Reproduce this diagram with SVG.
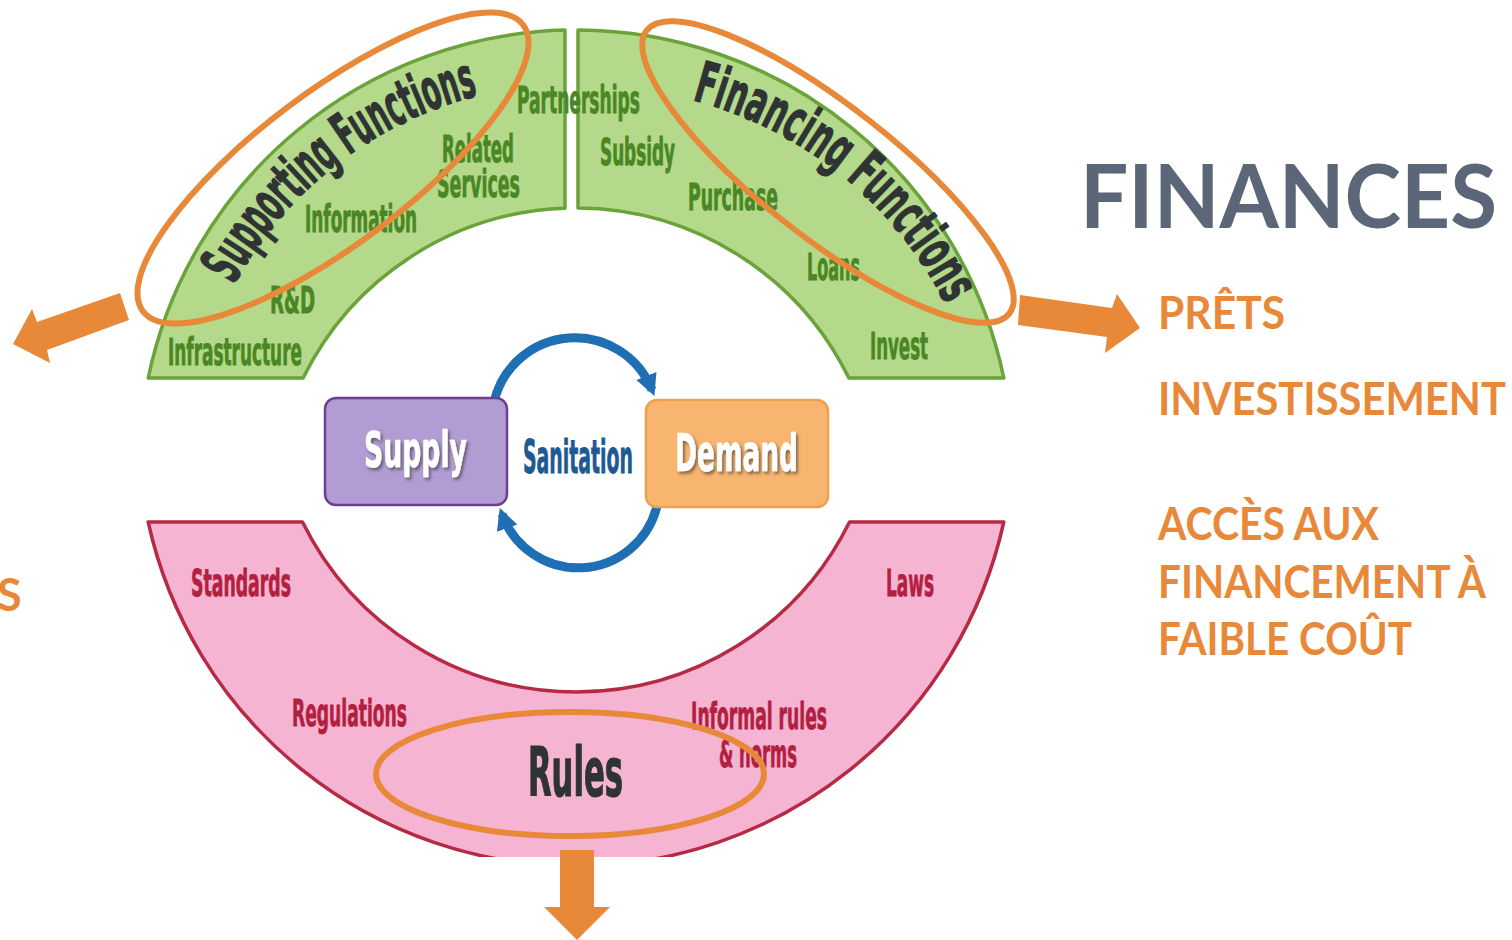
<svg xmlns="http://www.w3.org/2000/svg" width="1512" height="940" viewBox="0 0 1512 940">
<style>
.cond{font-family:"DejaVu Sans Condensed","DejaVu Sans","Liberation Sans",sans-serif;font-weight:bold}
.glab{fill:#4a8724;stroke:#4a8724;stroke-width:0.8;font-size:37px}
.plab{fill:#b31f3f;stroke:#b31f3f;stroke-width:0.8;font-size:38px}
.dark{fill:#2f3333;stroke:#2f3333;stroke-width:1.2}
.fr{font-family:"Lato","Open Sans","Liberation Sans",sans-serif;font-weight:bold}
.orange{fill:#e8893a;font-size:45px}
.ring-g{fill:#b4d98a;stroke:#6aa33a;stroke-width:3.5;stroke-linejoin:round}
.ring-p{fill:#f5b4d2;stroke:#b72a45;stroke-width:3.5;stroke-linejoin:round}
.oval{fill:none;stroke:#e8893a;stroke-width:6}
.arr{fill:#e8893a}
.loop{fill:none;stroke:#1f6fb5;stroke-width:9}
.white{fill:#ffffff;stroke:#ffffff;stroke-width:0.6}
</style>
<defs>
<clipPath id="cut"><rect x="0" y="0" width="1512" height="857"/></clipPath>
<marker id="blueHead" viewBox="0 0 10 10" refX="7" refY="5" markerWidth="2.4" markerHeight="2.6" orient="auto" markerUnits="strokeWidth">
<path d="M0,0 L10,5 L0,10 z" fill="#1f6fb5"/>
</marker>
<filter id="shadow" x="-10%" y="-10%" width="130%" height="140%">
<feDropShadow dx="2" dy="2.5" stdDeviation="1.5" flood-color="#333" flood-opacity="0.6"/>
</filter>
<path id="sfPath" d="M 234 285 A 386 386 0 0 1 480 95"/>
<path id="ffPath" d="M 692 100 A 395 395 0 0 1 946 305"/>
</defs>

<g id="supporting-functions">
<path class="ring-g" d="M 148.2 378 A 437 437 0 0 1 565 30.1 L 565 208.2 A 304 304 0 0 0 303.1 378 Z"/>
<text class="cond dark" font-size="57"><textPath href="#sfPath" textLength="318" lengthAdjust="spacingAndGlyphs">Supporting Functions</textPath></text>
<text class="cond glab" x="442" y="162" textLength="72" lengthAdjust="spacingAndGlyphs">Related</text>
<text class="cond glab" x="437" y="197" textLength="83" lengthAdjust="spacingAndGlyphs">Services</text>
<text class="cond glab" x="305" y="232" textLength="112" lengthAdjust="spacingAndGlyphs">Information</text>
<text class="cond glab" x="270" y="313" textLength="45" lengthAdjust="spacingAndGlyphs">R&amp;D</text>
<text class="cond glab" x="168" y="365" textLength="134" lengthAdjust="spacingAndGlyphs">Infrastructure</text>
</g>

<g id="financing-functions">
<path class="ring-g" d="M 578 30 A 437 437 0 0 1 1003.8 378 L 848.9 378 A 304 304 0 0 0 578 208 Z"/>
<text class="cond dark" font-size="57"><textPath href="#ffPath" textLength="336" lengthAdjust="spacingAndGlyphs">Financing Functions</textPath></text>
<text class="cond glab" x="600" y="165" textLength="75" lengthAdjust="spacingAndGlyphs">Subsidy</text>
<text class="cond glab" x="688" y="210" textLength="90" lengthAdjust="spacingAndGlyphs">Purchase</text>
<text class="cond glab" x="807" y="280" textLength="53" lengthAdjust="spacingAndGlyphs">Loans</text>
<text class="cond glab" x="870" y="359" textLength="58" lengthAdjust="spacingAndGlyphs">Invest</text>
</g>

<g id="partnerships">
<text class="cond glab" x="517" y="113" font-size="35" textLength="123" lengthAdjust="spacingAndGlyphs">Partnerships</text>
</g>

<g id="rules">
<path class="ring-p" clip-path="url(#cut)" d="M 148.2 522 L 302.5 522 A 305 305 0 0 0 849.5 522 L 1003.8 522 A 438 438 0 0 1 148.2 522 Z"/>
<text class="cond plab" x="191" y="596" textLength="100" lengthAdjust="spacingAndGlyphs">Standards</text>
<text class="cond plab" x="886" y="596" textLength="48" lengthAdjust="spacingAndGlyphs">Laws</text>
<text class="cond plab" x="292" y="726" textLength="115" lengthAdjust="spacingAndGlyphs">Regulations</text>
<text class="cond plab" x="691" y="729" textLength="136" lengthAdjust="spacingAndGlyphs">Informal rules</text>
<text class="cond plab" x="719" y="767" textLength="78" lengthAdjust="spacingAndGlyphs">&amp; norms</text>
<text class="cond dark" x="528" y="796" font-size="68" textLength="95" lengthAdjust="spacingAndGlyphs">Rules</text>
</g>

<g id="connectors">
<path class="loop" d="M 494 402 A 83 83 0 0 1 652 390" marker-end="url(#blueHead)"/>
<path class="loop" d="M 657 506 A 81 81 0 0 1 502 514" marker-end="url(#blueHead)"/>
<polygon class="arr" points="120,293 129,320 47,350 50,363 13,344 32,309 37,322"/>
<polygon class="arr" points="1020,295 1112,308 1117,294 1140,328 1105,353 1107,337 1018,325"/>
<polygon class="arr" points="560,850 594,850 594,907 610,907 577,940 544,907 560,907"/>
</g>

<g id="supply">
<rect x="325" y="398" width="182" height="107" rx="11" fill="#b19cd3" stroke="#6e3f8f" stroke-width="2.5"/>
<text class="cond white" x="364" y="467" font-size="50" textLength="103" lengthAdjust="spacingAndGlyphs" filter="url(#shadow)">Supply</text>
</g>

<g id="sanitation">
<text class="cond" x="523" y="473" font-size="47" fill="#1d5a93" stroke="#1d5a93" stroke-width="0.8" textLength="110" lengthAdjust="spacingAndGlyphs">Sanitation</text>
</g>

<g id="demand">
<rect x="646" y="400" width="182" height="107" rx="11" fill="#f8b56f" stroke="#f0a04c" stroke-width="2.5"/>
<text class="cond white" x="675" y="471" font-size="52" textLength="123" lengthAdjust="spacingAndGlyphs" filter="url(#shadow)">Demand</text>
</g>

<g id="highlights">
<ellipse class="oval" cx="333" cy="168" rx="238" ry="76" transform="rotate(-37 333 168)"/>
<ellipse class="oval" cx="828" cy="172" rx="230" ry="66" transform="rotate(38 828 172)"/>
<ellipse class="oval" cx="570" cy="774" rx="194" ry="62"/>
</g>

<g id="finances">
<text class="fr" x="1080" y="228" font-size="88" fill="#5b6779" textLength="417" lengthAdjust="spacingAndGlyphs">FINANCES</text>
<text class="fr orange" x="1158" y="329" textLength="127" lengthAdjust="spacingAndGlyphs">PRÊTS</text>
<text class="fr orange" x="1158" y="415" textLength="348" lengthAdjust="spacingAndGlyphs">INVESTISSEMENT</text>
<text class="fr orange" x="1158" y="540" textLength="221" lengthAdjust="spacingAndGlyphs">ACCÈS AUX</text>
<text class="fr orange" x="1158" y="598" textLength="328" lengthAdjust="spacingAndGlyphs">FINANCEMENT À</text>
<text class="fr orange" x="1158" y="655" textLength="254" lengthAdjust="spacingAndGlyphs">FAIBLE COÛT</text>
</g>

<g id="left-label">
<text class="fr orange" x="-3" y="611">S</text>
</g>
</svg>
